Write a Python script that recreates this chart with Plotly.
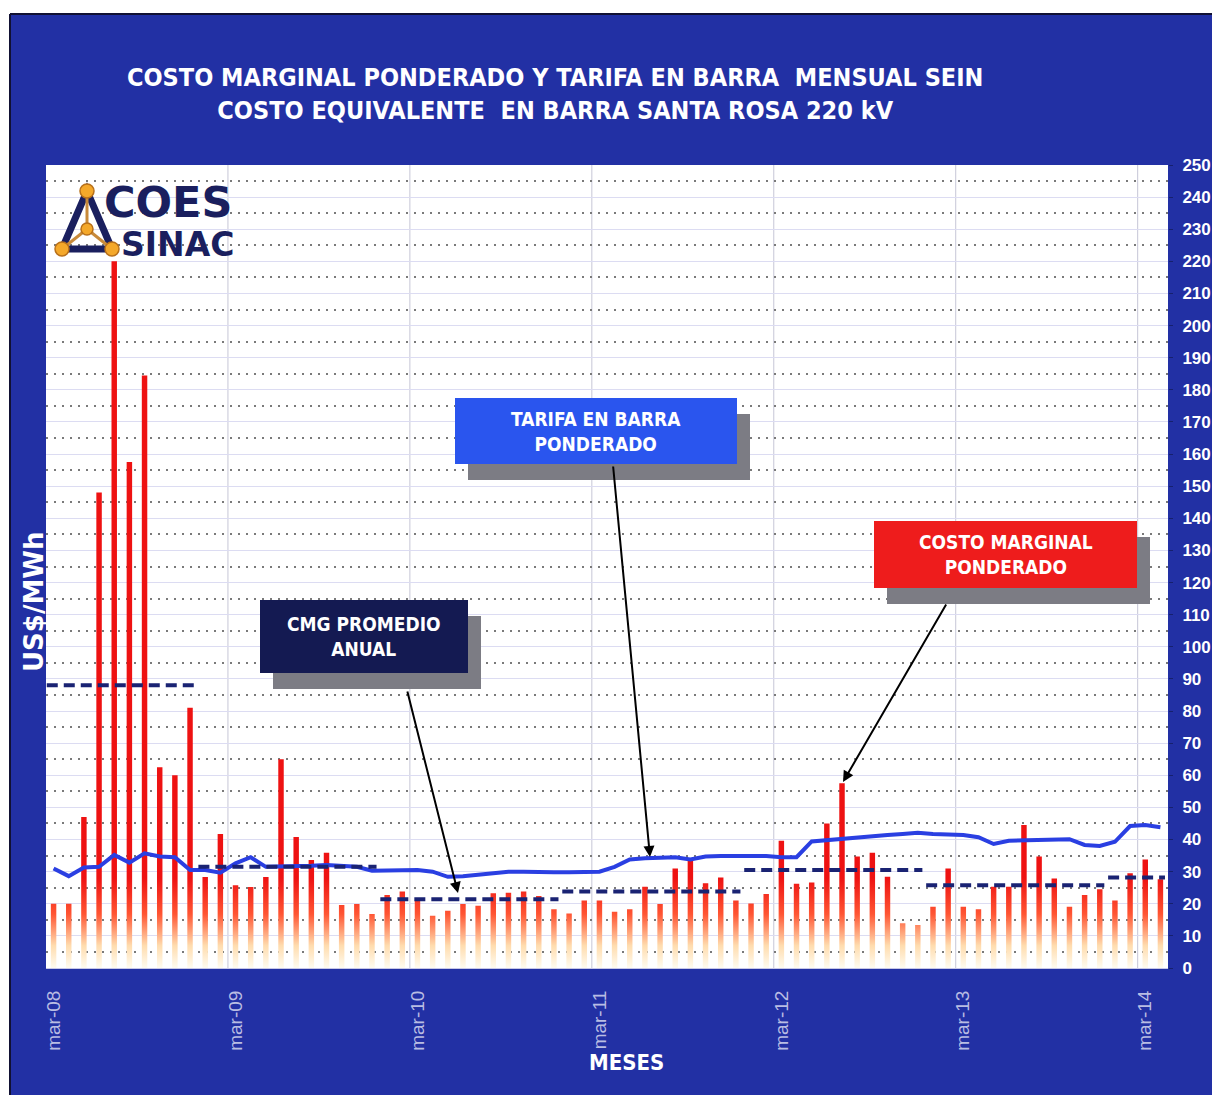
import plotly.graph_objects as go

# ---------------------------------------------------------------------------
# Datos: costo marginal ponderado mensual (US$/MWh), mar-08 .. abr-14
# ---------------------------------------------------------------------------
cmg_mensual = [
    20, 20, 47, 148, 220, 157.5, 184.5, 62.5, 60, 81,          # 2008 (mar-dic)
    28.3, 41.7, 25.8, 25.2, 28.3, 65, 40.8, 33.6, 35.9, 19.6, 19.9, 16.8,  # 2009
    22.7, 23.8, 21, 16.3, 17.8, 19.9, 19.4, 23.3, 23.4, 23.8, 22.4, 18.3,  # 2010
    17.0, 21, 21, 17.5, 18.3, 25.3, 19.9, 31, 33.6, 26.4, 28.2, 21,        # 2011
    20.1, 23, 39.6, 26.2, 26.6, 45, 57.5, 34.7, 35.9, 28.4, 13.9, 13.4,    # 2012
    19.1, 31, 19.1, 18.3, 25.3, 25.3, 44.5, 34.7, 27.9, 19.1, 22.7, 24.5,  # 2013
    21, 29.5, 33.8, 27.6,                                                  # 2014 (ene-abr)
]

# Tarifa en barra ponderada (US$/MWh)
tarifa_barra = [
    31, 28.6, 31.3, 31.5, 35.2, 32.8, 35.7, 34.7, 34.5, 30.5,
    30.5, 29.7, 32.6, 34.5, 31.5, 31.5, 31.5, 31.8, 32.1, 31.8, 31.5, 30.3,
    30.3, 30.3, 30.5, 30.0, 28.4, 28.6, 29.0, 29.7, 30.0, 30.0, 29.8, 29.8,
    29.8, 30.0, 30.0, 31.5, 33.8, 34.2, 34.5, 34.5, 33.8, 34.7, 34.9, 34.9,
    34.9, 34.9, 34.5, 34.5, 39.4, 39.8, 40.4, 40.9, 41.1, 41.4, 41.7, 42.1,
    41.7, 41.7, 41.4, 40.7, 38.6, 39.6, 39.8, 39.9, 40.1, 40.1, 38.3, 38.0,
    39.3, 44.2, 44.5, 43.8,
]

# CMG promedio anual: primer mes, ultimo mes (indice) y valor
prom_anios = ["2008", "2009", "2010", "2011", "2012", "2013", "2014"]
prom_inicio = [0, 10, 22, 34, 46, 58, 70]
prom_fin = [9, 21, 33, 45, 57, 69, 73]
prom_valor = [88, 31.5, 21.4, 23.8, 30.5, 25.8, 28.2]

# Etiquetas del eje de meses
etiquetas_mes = ["mar-08", "mar-09", "mar-10", "mar-11", "mar-12", "mar-13", "mar-14"]
posicion_etiqueta = [0, 12, 24, 36, 48, 60, 72]

# ---------------------------------------------------------------------------
# Geometria de la pagina
# ---------------------------------------------------------------------------
W, H = 1212, 1095
PL, PR, PT, PB = 46, 1168, 165, 968   # area de trazado en pixeles

AZUL_FONDO = "#2230a4"
COND = "DejaVu Sans Condensed, Liberation Sans, Arial, sans-serif"


def px(xp):
    return (xp - PL) / (PR - PL)


def py(yp):
    return (PB - yp) / (PB - PT)


n = len(cmg_mensual)
meses = list(range(n))

# Barras como poligonos con relleno degradado vertical
hw = 0.18
bx, by = [], []
for i, v in enumerate(cmg_mensual):
    bx += [i - hw, i + hw, i + hw, i - hw, i - hw, None]
    by += [0, 0, v, v, 0, None]

fig = go.Figure()

fig.add_trace(go.Scatter(
    x=bx, y=by, mode="lines", line=dict(width=0, color="#ee1010"),
    fill="toself",
    fillgradient=dict(
        type="vertical", start=0, stop=28,
        colorscale=[[0, "#fffcf0"], [0.25, "#ffdcae"], [0.6, "#ff5533"], [1, "#ee1212"]],
    ),
    hoverinfo="skip", showlegend=False, name="Costo marginal ponderado",
))

fig.add_trace(go.Scatter(
    x=meses, y=tarifa_barra, mode="lines",
    line=dict(color="#2a3fe2", width=4),
    showlegend=False, name="Tarifa en barra ponderado",
))

for s, e, v in zip(prom_inicio, prom_fin, prom_valor):
    fig.add_trace(go.Scatter(
        x=[s - 0.45, e + 0.3], y=[v, v], mode="lines",
        line=dict(color="#1a2373", width=4, dash="11px,6px"),
        showlegend=False, name="CMG promedio anual",
    ))

shapes = []

# Franjas blancas del borde y linea oscura del marco
shapes.append(dict(type="rect", xref="paper", yref="paper", layer="below",
                   x0=px(0), x1=px(10), y0=py(H), y1=py(0),
                   fillcolor="white", line=dict(width=0)))
shapes.append(dict(type="rect", xref="paper", yref="paper", layer="below",
                   x0=px(0), x1=px(W), y0=py(14), y1=py(0),
                   fillcolor="white", line=dict(width=0)))
shapes.append(dict(type="line", xref="paper", yref="paper",
                   x0=px(10), x1=px(W), y0=py(14), y1=py(14),
                   line=dict(color="#111133", width=2)))
shapes.append(dict(type="line", xref="paper", yref="paper",
                   x0=px(10), x1=px(10), y0=py(H), y1=py(14),
                   line=dict(color="#111133", width=2)))

# Lineas verticales entre anios
for k in range(1, 7):
    xv = 12 * k - 0.5
    shapes.append(dict(type="line", xref="x", yref="paper", layer="below",
                       x0=xv, x1=xv, y0=0, y1=1,
                       line=dict(color="#c6c6d6", width=1)))

# Logo COES SINAC
tri = [(87, 191), (62, 249), (112, 249)]
centro = (87, 229)
path = "M {} {} L {} {} L {} {} Z".format(
    px(tri[0][0]), py(tri[0][1]), px(tri[1][0]), py(tri[1][1]), px(tri[2][0]), py(tri[2][1]))
shapes.append(dict(type="path", xref="paper", yref="paper", path=path,
                   line=dict(color="#1a1f5e", width=7), fillcolor="rgba(0,0,0,0)"))
for (vx, vy) in tri:
    shapes.append(dict(type="line", xref="paper", yref="paper",
                       x0=px(vx), y0=py(vy), x1=px(centro[0]), y1=py(centro[1]),
                       line=dict(color="#c88a3a", width=3)))
for (vx, vy), r in zip(tri + [centro], [7, 7, 7, 6]):
    shapes.append(dict(type="circle", xref="paper", yref="paper",
                       x0=px(vx - r), x1=px(vx + r), y0=py(vy + r), y1=py(vy - r),
                       fillcolor="#f4a82a", line=dict(color="#b8701a", width=1.5)))

# Recuadros de leyenda con sombra
cajas = [
    # (x0, y0, x1, y1, color, texto)
    (260, 600, 468, 673, "#141a52", "CMG PROMEDIO<br>ANUAL"),
    (455, 398, 737, 464, "#2a55ee", "TARIFA EN BARRA<br>PONDERADO"),
    (874, 521, 1137, 588, "#ee1c1c", "COSTO MARGINAL<br>PONDERADO"),
]
anotaciones = []
for (x0, y0, x1, y1, color, texto) in cajas:
    shapes.append(dict(type="rect", xref="paper", yref="paper",
                       x0=px(x0 + 13), x1=px(x1 + 13), y0=py(y1 + 16), y1=py(y0 + 16),
                       fillcolor="#7c7c84", line=dict(width=0)))
    shapes.append(dict(type="rect", xref="paper", yref="paper",
                       x0=px(x0), x1=px(x1), y0=py(y1), y1=py(y0),
                       fillcolor=color, line=dict(width=0)))
    anotaciones.append(dict(
        xref="paper", yref="paper", x=px((x0 + x1) / 2), y=py((y0 + y1) / 2),
        text="<b>" + texto + "</b>", showarrow=False, xanchor="center", yanchor="middle",
        font=dict(family=COND, size=19, color="white"),
    ))

# Flechas (cola -> punta) en pixeles
flechas = [((407, 690), (458, 893)), ((613, 465), (650, 857)), ((947, 603), (843, 782))]
for (tx, ty), (hx, hy) in flechas:
    anotaciones.append(dict(
        xref="paper", yref="paper", x=px(hx), y=py(hy), ax=tx - hx, ay=ty - hy,
        text="", showarrow=True, arrowhead=2, arrowsize=1.1, arrowwidth=2,
        arrowcolor="black", standoff=0,
    ))

# Titulo
anotaciones.append(dict(
    xref="paper", yref="paper", x=px(555), y=py(94),
    text="<b>COSTO MARGINAL PONDERADO Y TARIFA EN BARRA\u00a0 MENSUAL SEIN<br>"
         "COSTO EQUIVALENTE\u00a0 EN BARRA SANTA ROSA 220 kV</b>",
    showarrow=False, xanchor="center", yanchor="middle",
    font=dict(family=COND, size=25, color="white"),
))

# Logo: texto
anotaciones.append(dict(
    xref="paper", yref="paper", x=px(102), y=py(202), text="<b>COES</b>",
    showarrow=False, xanchor="left", yanchor="middle",
    font=dict(family="DejaVu Sans", size=43, color="#1a1f5e"),
))
anotaciones.append(dict(
    xref="paper", yref="paper", x=px(119), y=py(245), text="<b>SINAC</b>",
    showarrow=False, xanchor="left", yanchor="middle",
    font=dict(family="DejaVu Sans", size=33, color="#1a1f5e"),
))

# Titulos de ejes
anotaciones.append(dict(
    xref="paper", yref="paper", x=px(34), y=py(602), text="<b>US$/MWh</b>",
    textangle=-90, showarrow=False, xanchor="center", yanchor="middle",
    font=dict(family="DejaVu Sans", size=26, color="white"),
))
anotaciones.append(dict(
    xref="paper", yref="paper", x=px(626), y=py(1062), text="<b>MESES</b>",
    showarrow=False, xanchor="center", yanchor="middle",
    font=dict(family=COND, size=22, color="white"),
))

fig.update_layout(
    width=W, height=H,
    margin=dict(l=PL, r=W - PR, t=PT, b=H - PB, pad=0),
    paper_bgcolor=AZUL_FONDO,
    plot_bgcolor="white",
    shapes=shapes,
    annotations=anotaciones,
    showlegend=False,
    xaxis=dict(
        range=[-0.5, n - 0.5], automargin=False,
        tickvals=posicion_etiqueta, ticktext=etiquetas_mes,
        tickangle=-90, ticks="", ticklabelstandoff=14,
        tickfont=dict(family="Liberation Sans, Arial, sans-serif", size=19, color="#b9bde3"),
        showgrid=False, zeroline=False,
        showline=True, linecolor="#c8c8e8", linewidth=1, mirror=False,
    ),
    yaxis=dict(
        range=[0, 250], side="right", tick0=0, dtick=10, automargin=False,
        ticks="outside", ticklen=4, tickcolor="#16206e", ticklabelstandoff=6,
        tickfont=dict(family="Liberation Sans, Arial, sans-serif", size=17,
                      color="white", weight="bold"),
        showgrid=True, gridcolor="#dcdcf2", gridwidth=1,
        minor=dict(dtick=5, showgrid=True, griddash="2px,6px",
                   gridcolor="#7a7a7a", gridwidth=1.5),
        zeroline=False, showline=False,
    ),
)

fig.write_html("out.html", config={"displayModeBar": False})
